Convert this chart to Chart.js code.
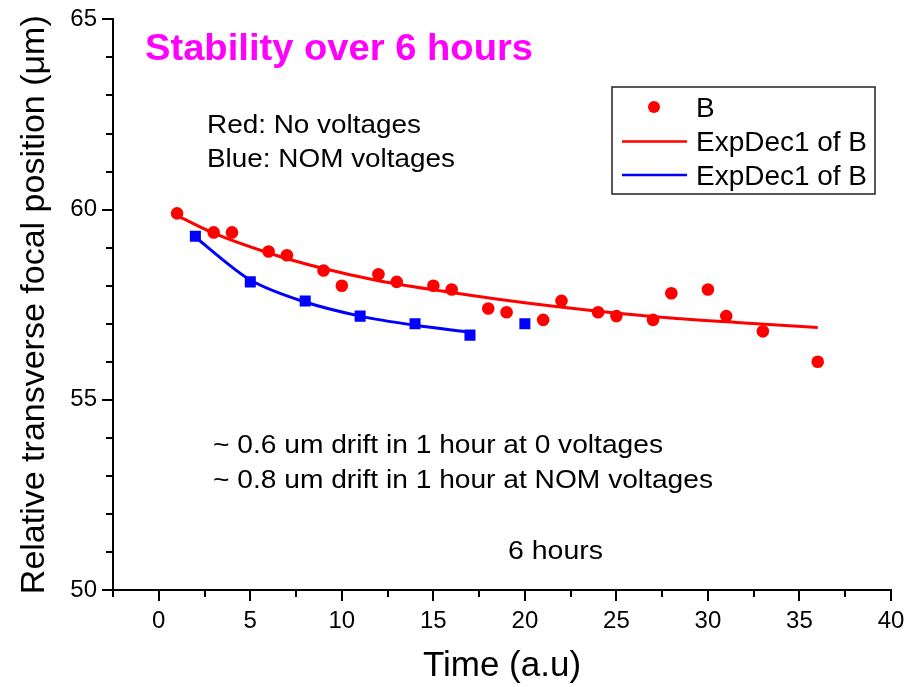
<!DOCTYPE html>
<html>
<head>
<meta charset="utf-8">
<script src="https://cdn.jsdelivr.net/npm/chart.js@4.4.1/dist/chart.umd.min.js"></script>
<style>
  html, body { margin: 0; padding: 0; background: #fff; }
  canvas { display: block; }
</style>
</head>
<body>
<canvas id="stability" width="915" height="687"></canvas>
<script>
// measured focal positions, no voltages (red) and NOM voltages (blue)
const timeRed = [1, 3, 4, 6, 7, 9, 10, 12, 13, 15, 16, 18, 19, 21, 22, 24, 25, 27, 28, 30, 31, 33, 36];
const posRed = [59.9, 59.4, 59.4, 58.9, 58.8, 58.4, 58.0, 58.3, 58.1, 58.0, 57.9, 57.4, 57.3, 57.1, 57.6, 57.3, 57.2, 57.1, 57.8, 57.9, 57.2, 56.8, 56.0];
const timeBlue = [2, 5, 8, 11, 14, 17, 20];
const posBlue = [59.3, 58.1, 57.6, 57.2, 57.0, 56.7, 57.0];

// ExpDec1 fit curves, sampled
const fitRedTime = [1, 3, 6, 9, 12, 16, 20, 24, 28, 32, 36];
const fitRedPos = [59.84, 59.38, 58.86, 58.45, 58.13, 57.82, 57.55, 57.33, 57.15, 57.02, 56.9];
const fitBlueTime = [2, 3.5, 5, 8, 11, 14, 17];
const fitBluePos = [59.28, 58.68, 58.15, 57.57, 57.2, 56.96, 56.78];

const xTicksMajor = [0, 5, 10, 15, 20, 25, 30, 35, 40];
const yTicksMajor = [50, 55, 60, 65];

const titleText = 'Stability over 6 hours';
const notes = ['Red: No voltages', 'Blue: NOM voltages'];
const driftNotes = ['~ 0.6 um drift in 1 hour at 0 voltages', '~ 0.8 um drift in 1 hour at NOM voltages'];
const durationNote = '6 hours';

const FONT = "'Liberation Sans', Arial, sans-serif";

const toPoints = (xs, ys) => xs.map((x, i) => ({ x: x, y: ys[i] }));
const isMajor = (v, list) => list.some(m => Math.abs(m - v) < 1e-6);

// draw text squeezed/stretched to a given width
function fitText(ctx, text, x, y, font, color, width) {
  ctx.save();
  ctx.font = font;
  const w = ctx.measureText(text).width;
  ctx.translate(x, y);
  ctx.scale(width / w, 1);
  ctx.fillStyle = color;
  ctx.textBaseline = 'alphabetic';
  ctx.textAlign = 'left';
  ctx.fillText(text, 0, 0);
  ctx.restore();
}

const minorTicks = {
  id: 'minorTicks',
  afterDraw(chart) {
    const ctx = chart.ctx;
    ctx.save();
    ctx.strokeStyle = '#000';
    ctx.lineWidth = 2;
    const xs = chart.scales.x, ys = chart.scales.y;
    xs.ticks.forEach(t => {
      if (isMajor(t.value, xTicksMajor)) return;
      const px = Math.round(xs.getPixelForValue(t.value));
      ctx.beginPath();
      ctx.moveTo(px, xs.top);
      ctx.lineTo(px, xs.top + 7);
      ctx.stroke();
    });
    ys.ticks.forEach(t => {
      if (isMajor(t.value, yTicksMajor)) return;
      const py = Math.round(ys.getPixelForValue(t.value));
      ctx.beginPath();
      ctx.moveTo(ys.right, py);
      ctx.lineTo(ys.right - 7, py);
      ctx.stroke();
    });
    ctx.restore();
  }
};

const notesPlugin = {
  id: 'notes',
  afterDraw(chart) {
    const ctx = chart.ctx;
    fitText(ctx, titleText, 145, 60, 'bold 36px ' + FONT, '#ff00ff', 388);
    fitText(ctx, notes[0], 207, 133, '25px ' + FONT, '#000', 214);
    fitText(ctx, notes[1], 207, 167, '25px ' + FONT, '#000', 248);
    fitText(ctx, driftNotes[0], 213, 453, '25px ' + FONT, '#000', 450);
    fitText(ctx, driftNotes[1], 213, 488, '25px ' + FONT, '#000', 500);
    fitText(ctx, durationNote, 508, 559, '25px ' + FONT, '#000', 95);
  }
};

// legend box drawn inside the plot, B / red fit / blue fit
const legendBox = {
  id: 'legendBox',
  afterDraw(chart) {
    const ctx = chart.ctx;
    const ds = chart.data.datasets;
    const items = [ds[0], ds[2], ds[3]];
    ctx.save();
    ctx.fillStyle = '#fff';
    ctx.fillRect(612, 87, 263, 107);
    ctx.strokeStyle = '#222';
    ctx.lineWidth = 1.5;
    ctx.strokeRect(612, 87, 263, 107);
    ctx.font = '27px ' + FONT;
    const sx = 171 / ctx.measureText(items[1].label).width;
    const rows = [107, 141.5, 175];
    items.forEach((d, i) => {
      const cy = rows[i];
      if (d.showLine) {
        ctx.strokeStyle = d.borderColor;
        ctx.lineWidth = 2.5;
        ctx.beginPath();
        ctx.moveTo(622, cy);
        ctx.lineTo(687, cy);
        ctx.stroke();
      } else {
        ctx.fillStyle = d.backgroundColor;
        ctx.beginPath();
        ctx.arc(654, cy, 6, 0, Math.PI * 2);
        ctx.fill();
      }
      ctx.save();
      ctx.translate(696, cy + 9.5);
      ctx.scale(sx, 1);
      ctx.fillStyle = '#000';
      ctx.textBaseline = 'alphabetic';
      ctx.fillText(d.label, 0, 0);
      ctx.restore();
    });
    ctx.restore();
  }
};

new Chart(document.getElementById('stability'), {
  type: 'scatter',
  data: {
    datasets: [
      {
        label: 'B',
        data: toPoints(timeRed, posRed),
        pointStyle: 'circle',
        pointRadius: 6.3,
        backgroundColor: '#ff0000',
        borderColor: '#ff0000',
        borderWidth: 0
      },
      {
        label: 'B',
        data: toPoints(timeBlue, posBlue),
        pointStyle: 'rect',
        pointRadius: 7.8,
        backgroundColor: '#0000ff',
        borderColor: '#0000ff',
        borderWidth: 0
      },
      {
        label: 'ExpDec1 of B',
        data: toPoints(fitRedTime, fitRedPos),
        showLine: true,
        pointRadius: 0,
        borderColor: '#ff0000',
        borderWidth: 3,
        cubicInterpolationMode: 'monotone'
      },
      {
        label: 'ExpDec1 of B',
        data: toPoints(fitBlueTime, fitBluePos),
        showLine: true,
        pointRadius: 0,
        borderColor: '#0000ff',
        borderWidth: 3,
        cubicInterpolationMode: 'monotone'
      }
    ]
  },
  options: {
    responsive: false,
    animation: false,
    devicePixelRatio: 1,
    layout: { padding: { left: 0, top: 19, right: 24, bottom: 0 } },
    plugins: {
      legend: { display: false },
      tooltip: { enabled: false }
    },
    scales: {
      x: {
        type: 'linear',
        min: -2.5,
        max: 40,
        afterFit: s => { s.height = 97; },
        border: { display: true, color: '#000', width: 2 },
        grid: {
          drawOnChartArea: false,
          tickLength: 11,
          lineWidth: 2,
          color: c => (c.tick && isMajor(c.tick.value, xTicksMajor)) ? '#000' : 'rgba(0,0,0,0)'
        },
        ticks: {
          stepSize: 2.5,
          padding: 6,
          color: '#000',
          maxRotation: 0,
          autoSkip: false,
          font: { family: FONT, size: 24 },
          callback: v => isMajor(v, xTicksMajor) ? v : ''
        },
        title: {
          display: true,
          text: 'Time (a.u)',
          color: '#000',
          font: { family: FONT, size: 35 },
          padding: { top: 0, bottom: 0 }
        }
      },
      y: {
        type: 'linear',
        min: 50,
        max: 65,
        afterFit: s => { s.width = 113; },
        border: { display: true, color: '#000', width: 2 },
        grid: {
          drawOnChartArea: false,
          tickLength: 11,
          lineWidth: 2,
          color: c => (c.tick && isMajor(c.tick.value, yTicksMajor)) ? '#000' : 'rgba(0,0,0,0)'
        },
        ticks: {
          stepSize: 1,
          padding: 5,
          color: '#000',
          autoSkip: false,
          font: { family: FONT, size: 24 },
          callback: v => isMajor(v, yTicksMajor) ? v : ''
        },
        title: {
          display: true,
          text: 'Relative transverse focal position (μm)',
          color: '#000',
          font: { family: FONT, size: 34 },
          padding: { top: 14, bottom: 0 }
        }
      }
    }
  },
  plugins: [minorTicks, notesPlugin, legendBox]
});
</script>
</body>
</html>
